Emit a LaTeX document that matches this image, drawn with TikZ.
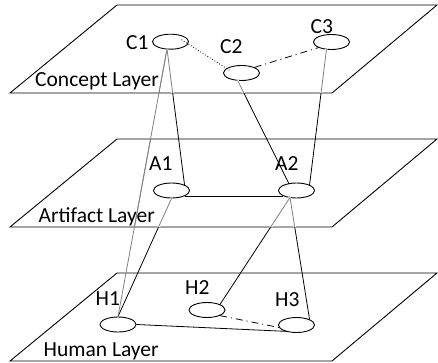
\documentclass[tikz,border=0pt]{standalone}
\usepackage{fontspec}
\setmainfont{Carlito}
\usetikzlibrary{shapes.geometric,calc}
\definecolor{lngray}{gray}{0.5}
\begin{document}
\begin{tikzpicture}[x=1pt,y=-1pt,
  plane/.style={draw=black,line width=0.9pt,line join=miter},
  ell/.style={draw=black,ellipse,line width=0.9pt,minimum width=36pt,minimum height=15pt,inner sep=0pt},
  lbl/.style={anchor=base west,inner sep=0pt,font=\fontsize{21.5}{25}\selectfont},
  conn/.style={draw=black,line width=0.8pt},
  grayconn/.style={draw=lngray,line width=0.8pt},
  whiteout/.style={draw=white,line width=2.4pt},
  mydashdot/.style={dash pattern=on 7pt off 4pt on 1pt off 4pt},
  dotline/.style={dash pattern=on 0.8pt off 2pt}
]
\useasboundingbox (0,0) rectangle (438,363);

% planes
\draw[plane] (10,93) -- (117,5) -- (437,5) -- (332,93) -- cycle;
\draw[plane] (10,227) -- (117,139) -- (437,139) -- (332,227) -- cycle;
\draw[plane] (10,361) -- (117,273) -- (437,273) -- (332,361) -- cycle;

% ellipses
\node[ell] (C1) at (170.5,41.7) {};
\node[ell] (C2) at (241.5,73) {};
\node[ell] (C3) at (331.5,42) {};
\node[ell] (A1) at (171.5,190.5) {};
\node[ell] (A2) at (296.5,190.5) {};
\node[ell] (H1) at (118,324.5) {};
\node[ell] (H2) at (207,310) {};
\node[ell] (H3) at (296.5,325) {};

% labels
\node[lbl] (lC1) at (126,50) {C1};
\node[lbl] (lC2) at (220,53.3) {C2};
\node[lbl] (lC3) at (310.5,33.5) {C3};
\node[lbl] (lA1) at (149,170.7) {A1};
\node[lbl] (lA2) at (275,170.7) {A2};
\node[lbl] (lH1) at (95.5,305.5) {H1};
\node[lbl] (lH2) at (185,294.5) {H2};
\node[lbl] (lH3) at (275,306.5) {H3};
\node[lbl] (lCL) at (35,86.7) {Concept Layer};
\node[lbl] (lAL) at (38.5,222) {Artifact Layer};
\node[lbl] (lHL) at (43.5,356) {Human Layer};

% connectors (black)
\draw[conn,dotline] ($(C1.center)+(11,-2)$) -- ($(C2.center)+(-11,-2)$);
\draw[conn,mydashdot] (C2.north east) -- (C3.south west);
\draw[conn] ($(C3.center)+(-5,7.3)$) -- (A2.north east);
\draw[conn] ($(C2.center)+(-4,7.3)$) -- ($(A2.center)+(-7.5,-6.8)$);
\draw[conn] ($(C1.center)+(-3.5,7.3)$) -- (A1.north east);
\draw[conn] (A1.south east) -- (A2.south west);
\draw[conn] (A1.south) -- (H1.north);
\draw[conn] ($(A2.center)+(-6.5,7)$) -- (H2.north east);
\draw[conn] ($(A2.center)+(-6.5,7)$) -- (H3.north east);
\draw[conn] (H1.east) -- ($(H3.center)+(-9.5,6.4)$);
\draw[conn,mydashdot] (H2.south east) -- ($(H3.center)+(-16.5,2.7)$);
\draw[grayconn] ($(C1.center)+(-3.5,7.3)$) -- (H1.north);

% segments seen through the concept plane
\begin{scope}
\clip (10,93) -- (117,5) -- (437,5) -- (332,93) -- cycle;
\draw[whiteout] ($(C3.center)+(-5,7.3)$) -- (A2.north east);
\draw[whiteout] ($(C2.center)+(-4,7.3)$) -- ($(A2.center)+(-7.5,-6.8)$);
\draw[whiteout] ($(C1.center)+(-3.5,7.3)$) -- (A1.north east);
\draw[grayconn] ($(C3.center)+(-5,7.3)$) -- (A2.north east);
\draw[grayconn] ($(C2.center)+(-4,7.3)$) -- ($(A2.center)+(-7.5,-6.8)$);
\draw[grayconn] ($(C1.center)+(-3.5,7.3)$) -- (A1.north east);
\draw[grayconn] ($(C1.center)+(-3.5,7.3)$) -- (H1.north);
\end{scope}

% segments seen through the artifact plane
\begin{scope}
\clip (10,227) -- (117,139) -- (437,139) -- (332,227) -- cycle;
\draw[whiteout] (A1.south) -- (H1.north);
\draw[whiteout] ($(A2.center)+(-6.5,7)$) -- (H2.north east);
\draw[whiteout] ($(A2.center)+(-6.5,7)$) -- (H3.north east);
\draw[grayconn] (A1.south) -- (H1.north);
\draw[grayconn] ($(A2.center)+(-6.5,7)$) -- (H2.north east);
\draw[grayconn] ($(A2.center)+(-6.5,7)$) -- (H3.north east);
\draw[grayconn] ($(C1.center)+(-3.5,7.3)$) -- (H1.north);
\end{scope}
\end{tikzpicture}
\end{document}
